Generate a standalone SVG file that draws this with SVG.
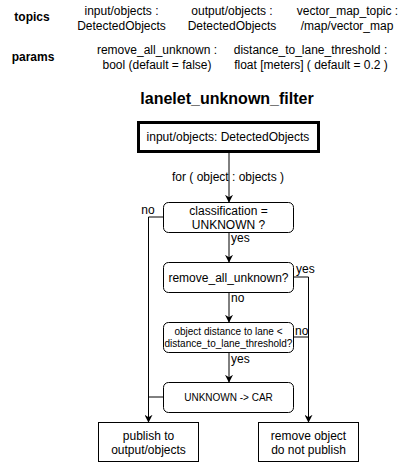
<svg xmlns="http://www.w3.org/2000/svg" width="405" height="465" viewBox="0 0 405 465">
<defs>
<style>
text{font-family:"Liberation Sans",Arial,sans-serif;fill:#000;}
.t12{font-size:12px;text-anchor:middle;}
.b12{font-size:12px;font-weight:bold;text-anchor:middle;}
.t10{font-size:10px;text-anchor:middle;}
.lbl{font-size:12px;}
.box{fill:#fff;stroke:#000;stroke-width:1;}
.edge{fill:none;stroke:#000;stroke-width:1;}
</style>
<marker id="arr" viewBox="0 0 10 10" refX="9" refY="5" markerWidth="8" markerHeight="8" markerUnits="userSpaceOnUse" orient="auto">
<path d="M0,0 L10,5 L0,10 L3,5 Z" fill="#000"/>
</marker>
</defs>
<rect width="405" height="465" fill="#fff"/>

<g id="header">
<text class="b12" x="32" y="21">topics</text>
<text class="t12" x="121.5" y="15">input/objects :</text>
<text class="t12" x="121.5" y="30">DetectedObjects</text>
<text class="t12" x="232" y="15">output/objects :</text>
<text class="t12" x="232" y="30">DetectedObjects</text>
<text class="t12" x="347.5" y="15">vector_map_topic :</text>
<text class="t12" x="347" y="30">/map/vector_map</text>
<text class="b12" x="33" y="61">params</text>
<text class="t12" x="157" y="54">remove_all_unknown :</text>
<text class="t12" x="157" y="69">bool (default = false)</text>
<text class="t12" x="310.5" y="54">distance_to_lane_threshold :</text>
<text class="t12" x="311" y="69">float [meters] ( default = 0.2 )</text>
<text x="227" y="104" style="font-size:16px;font-weight:bold;text-anchor:middle">lanelet_unknown_filter</text>
</g>

<g id="connectors">
<line class="edge" x1="229" y1="152" x2="229" y2="202" marker-end="url(#arr)"/>
<polyline class="edge" points="163,217 148.5,217 148.5,422" marker-end="url(#arr)"/>
<line class="edge" x1="229" y1="232" x2="229" y2="262" marker-end="url(#arr)"/>
<polyline class="edge" points="293,277 308.5,277 308.5,422" marker-end="url(#arr)"/>
<line class="edge" x1="229" y1="292" x2="229" y2="322" marker-end="url(#arr)"/>
<polyline class="edge" points="293,337 308.5,337"/>
<line class="edge" x1="229" y1="352" x2="229" y2="382" marker-end="url(#arr)"/>
<polyline class="edge" points="163,397 148.5,397"/>
<text class="t12" x="228" y="181">for ( object : objects )</text>
<text class="t12" x="148" y="214">no</text>
<text class="lbl" x="231" y="242">yes</text>
<text class="lbl" x="296" y="273">yes</text>
<text class="lbl" x="231" y="302">no</text>
<text class="lbl" x="295" y="335">no</text>
<text class="lbl" x="231" y="363">yes</text>
</g>

<g id="input">
<rect x="138.5" y="122.5" width="180" height="29" fill="#fff" stroke="#000" stroke-width="3"/>
<text class="t12" x="228" y="141">input/objects: DetectedObjects</text>
</g>

<g id="classification">
<rect class="box" x="163.5" y="202.5" width="130" height="30" rx="5"/>
<text class="t12" x="228.5" y="215">classification =</text>
<text class="t12" x="228.5" y="229">UNKNOWN ?</text>
</g>

<g id="remove_all">
<rect class="box" x="163.5" y="262.5" width="130" height="30" rx="5"/>
<text class="t12" x="228.5" y="281.5">remove_all_unknown?</text>
</g>

<g id="distance">
<rect class="box" x="163.5" y="322.5" width="130" height="30" rx="5"/>
<text class="t10" x="228.5" y="334.5">object distance to lane &lt;</text>
<text class="t10" x="228.5" y="346.5">distance_to_lane_threshold?</text>
</g>

<g id="to_car">
<rect class="box" x="163.5" y="382.5" width="130" height="30" rx="5"/>
<text class="t10" x="228.5" y="400.5">UNKNOWN -&gt; CAR</text>
</g>

<g id="publish">
<rect class="box" x="98.5" y="422.5" width="100" height="39"/>
<text class="t12" x="148.5" y="439.5">publish to</text>
<text class="t12" x="148.5" y="453.5">output/objects</text>
</g>

<g id="remove">
<rect class="box" x="258.5" y="422.5" width="100" height="39"/>
<text class="t12" x="308.5" y="439.5">remove object</text>
<text class="t12" x="308.5" y="453.5">do not publish</text>
</g>
</svg>
